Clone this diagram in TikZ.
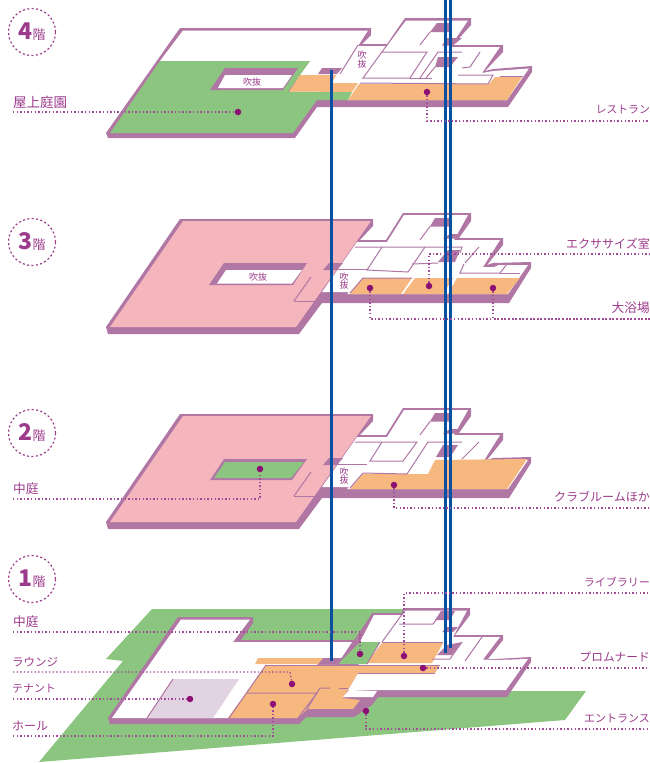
\documentclass[tikz,border=0pt]{standalone}
\usepackage{fontspec}
\setmainfont{Noto Sans CJK JP}
\usetikzlibrary{calc}
\definecolor{wall}{HTML}{B077A5}
\definecolor{lawn}{HTML}{8CC580}
\definecolor{tan}{HTML}{F6B87F}
\definecolor{rose}{HTML}{F5B5BD}
\definecolor{lilac}{HTML}{E2D3E2}
\definecolor{ink}{HTML}{9C3B8C}
\definecolor{spot}{HTML}{8B0F75}
\definecolor{shaft}{HTML}{0A50A0}
\definecolor{leadc}{HTML}{A04A98}
\tikzset{
 wallf/.style={fill=wall,draw=none},
 whitef/.style={fill=white,draw=none},
 lawnf/.style={fill=lawn,draw=none},
 tanf/.style={fill=tan,draw=none},
 rosef/.style={fill=rose,draw=none},
 lilacf/.style={fill=lilac,draw=none},
 thin line/.style={draw=wall,line width=1pt},
 shaftl/.style={draw=shaft,line width=3pt},
 lead/.style={draw=leadc,line width=1.3pt,dash pattern=on 1.4pt off 2.2pt},
 spotd/.style={circle,fill=spot,inner sep=0pt,minimum size=6.5pt},
 lab/.style={text=ink,font=\fontsize{12}{12}\selectfont,inner sep=0pt},
 labl/.style={lab,anchor=west},
 labr/.style={lab,anchor=east},
 fs/.style={font=\fontsize{#1}{#1}\selectfont},
 tiny/.style={text=ink,font=\fontsize{9}{9}\selectfont,inner sep=0pt},
 ring/.style={circle,draw=ink,line width=1.2pt,dash pattern=on 2pt off 2.4pt,minimum size=47pt,inner sep=0pt,text=ink},
}
\newcommand{\ringtext}[1]{{\fontsize{23}{23}\selectfont\bfseries #1}{\fontsize{13}{13}\selectfont 階}}
% parts shared by floors 2 and 3 (drawn at floor 3 position)
\newcommand{\midfloorback}{%
 \path[wallf] (180,219)--(373,219)--(373,226)--(360,240)--(386,240)--(403,213)--(471,213)--(471,221)--(459,238)--(503,238)--(503,245)--(487,265)--(493,263)--(531,262)--(531,268)--(509,303)--(322,303)--(299,334)--(108,334)--(106,327)--cycle;
 \path[whitef] (357,242)--(387,242)--(404,215)--(468,215)--(454,240)--(500,240)--(483,267)--(494,267)--(499,265)--(528,265)--(508,294)--(347,294)--(349,292)--(322,292)--cycle;
 \path[rosef] (183,221)--(371,221)--(296,327)--(110,327)--cycle;
 \path[wallf] (329,263)--(343,263)--(337,270)--(323,270)--cycle;
 \draw[thin line] (294,301)--(311,277);
 \draw[thin line] (294,301)--(317,301);
 \path[wallf] (435,218)--(450,218)--(450,226.5)--(430,226.5)--cycle;
 \path[wallf] (450,234)--(460,234)--(455,238.5)--(443,238.5)--cycle;
 \draw[thin line] (420,240)--(430,226.5);
 \draw[thin line] (335,269)--(367,269);
}
\begin{document}
\begin{tikzpicture}[x=1pt,y=-1pt]
\useasboundingbox (0,0) rectangle (650,763);
%% ---------- FLOOR 4
\path[wallf] (180,28)--(371,28)--(371,35)--(362,44)--(387,44)--(405,18)--(471,18)--(471,25)--(453,45)--(503,45)--(503,52)--(485,71)--(493,69)--(532,66)--(532,72)--(508,107)--(317,107)--(295,138)--(108,138)--(106,133)--cycle;
\path[whitef] (183,30.5)--(368,30.5)--(358,46)--(387,46)--(406,20.5)--(468,20.5)--(450,47)--(500,47)--(482,73)--(493,71)--(529,68.5)--(507,100)--(348,100)--(340,92)--(290,92)--(300,75)--(310,61)--(160,61)--cycle;
\path[lawnf] (160,61)--(310,61)--(288,91.5)--(352,92)--(348,100)--(317,100)--(293,133)--(110,133)--cycle;
\path[tanf] (300,75)--(336,75)--(332,83)--(358,83)--(352,92)--(289,91.5)--cycle;
\path[wallf] (322,68)--(342,68)--(337,74)--(318,74)--cycle;
\path[tanf] (359,84)--(489,84)--(495,77)--(522,77)--(507,100)--(348,100)--cycle;
\path[wallf] (225,68)--(298,68)--(283,90)--(210,90)--cycle;
\path[whitef] (225,75)--(292,75)--(283,88)--(218,88)--cycle;
\path[wallf] (437,23)--(449,23)--(449,32)--(430,32)--cycle;
\path[wallf] (447,38)--(462,38)--(453,45.5)--(442,45.5)--cycle;
\path[wallf] (438,57)--(458,57)--(450,67)--(435,67)--cycle;
\draw[thin line] (430,32)--(420,45);
\draw[thin line] (358,45)--(340,74);
\draw[thin line] (387,45)--(363,78)--(410,78)--(427,52)--(382,52);
\draw[thin line] (420,78)--(438,52)--(462,52);
\draw[thin line] (410,78)--(432,78);
\draw[thin line] (435,67)--(426,78);
\draw[thin line] (480,52)--(470,67)--(462,68);
\draw[thin line] (458,75)--(493,75)--(488,84)--(360,83);
\draw[thin line] (500,76)--(523,76);
\node[tiny] (f4a) at (252,82) {吹抜};
\node[tiny,align=center] (f4b) at (362,59.5) {吹\\[-0.5pt]抜};
%% ---------- FLOOR 3
\begin{scope}
\midfloorback
\path[wallf] (224,263)--(307,263)--(293,285)--(209,285)--cycle;
\path[whitef] (226,270)--(302,270)--(292,283.5)--(217,283.5)--cycle;
\path[tanf] (350,294)--(363,278)--(412,278)--(401,294)--cycle;
\path[tanf] (415,278)--(453,278)--(443,294)--(403,294)--cycle;
\path[tanf] (457,278)--(520,278)--(507,294)--(448,294)--cycle;
\draw[thin line] (350,293)--(363,278)--(412,278);
\draw[thin line] (355,247)--(462,247)--(460,253);
\draw[thin line] (382,247)--(367,270)--(408,272)--(425,247);
\draw[thin line] (412,264)--(438,263);
\path[wallf] (448,250)--(460,250)--(455,262)--(438,262)--cycle;
\draw[thin line] (479,247)--(465,263);
\draw[thin line] (464,264)--(460,273)--(500,273)--(507,264);
\draw[thin line] (500,273)--(520,273);
\node[tiny] (f3a) at (258,277) {吹抜};
\node[tiny,align=center] (f3b) at (344,281) {吹\\[-0.5pt]抜};
\end{scope}
%% ---------- FLOOR 2
\begin{scope}[shift={(0,195)}]
\midfloorback
\path[wallf] (224,264)--(307,264)--(292,285)--(210,285)--cycle;
\path[lawnf] (225,267)--(304,267)--(291,283)--(214,283)--cycle;
\path[tanf] (350,294)--(363,279)--(428,279)--(435,265)--(527,264)--(507,294)--cycle;
\draw[thin line] (350,293)--(363,278)--(407,279);
\draw[thin line] (355,247)--(417,247)--(403,266)--(370,266)--(382,247);
\draw[thin line] (407,279)--(428,247)--(462,247);
\path[wallf] (443,250)--(458,250)--(450,262)--(436,262)--cycle;
\draw[thin line] (479,247)--(462,264);
\node[tiny,align=center] (f2b) at (344,281) {吹\\[-0.5pt]抜};
\end{scope}
%% ---------- FLOOR 1
\path[lawnf] (152,609)--(403,609)--(400,640)--(470,691)--(586,691)--(565,720)--(39,762)--(123,661)--(106,659)--cycle;
\path[wallf] (178,617)--(253,617)--(253,623)--(241,640)--(356,640)--(372,613)--(402,613)--(403,608)--(470,608)--(470,615)--(455,635)--(503,635)--(503,640)--(488,659)--(495,659)--(531,657)--(531,662)--(507,697)--(378,697)--(372,705)--(354,717)--(306,717)--(299,724)--(110,724)--(108,718)--cycle;
\path[whitef] (181,619.5)--(250,619.5)--(233,642)--(352,642)--(338,664)--(318,664)--(229,718)--(112,718)--cycle;
\path[whitef] (374,615)--(403,615)--(405,610.5)--(467,610.5)--(453,637)--(500,637)--(483,659.5)--(495,660)--(528,659)--(506,690)--(348,690)--(358,673)--(360,642)--cycle;
\path[lawnf] (360,642)--(380,642)--(367,664)--(338,664)--cycle;
\path[wallf] (323,658)--(342,658)--(338,664)--(318,664)--cycle;
\path[tanf] (258,658)--(323,658)--(318,664)--(255,664)--cycle;
\path[tanf] (266,665)--(440,665)--(435,673)--(358,673)--(343,698)--(360,700)--(353,709)--(307,709)--(298,718)--(228,718)--cycle;
\path[tanf] (382,643)--(443,643)--(432,663)--(367,663)--cycle;
\path[lilacf] (173,679)--(239,679)--(213,718)--(147,718)--cycle;
\path[whitef] (349,690)--(377,691)--(373,697)--(343,697)--cycle;
\draw[thin line] (173,679)--(147,718);
\draw[thin line] (266,665)--(229,718);
\draw[thin line] (266,665)--(440,665);
\draw[thin line] (247,693)--(317,693)--(298,718);
\draw[thin line] (307,709)--(320,688)--(330,688);
\draw[thin line] (339,688)--(348,688);
\draw[thin line] (307,709)--(353,709);
\draw[thin line] (372,615)--(338,664);
\draw[thin line] (382,642)--(403,613);
\draw[thin line] (382,642)--(443,642);
\draw[thin line] (367,664)--(380,642);
\draw[thin line] (399,624)--(433,624)--(442,612);
\path[wallf] (441,611)--(455,611)--(450,620)--(435,620)--cycle;
\path[wallf] (447,627)--(458,627)--(453,632)--(442,632)--cycle;
\path[wallf] (447,645)--(462,642)--(452,655)--(437,655)--cycle;
\draw[thin line] (432,659)--(450,659)--(462,642);
\draw[thin line] (482,637)--(465,661);
\draw[thin line] (358,673)--(435,673);
%% ---------- shafts
\coordinate (sa) at (331,70); \coordinate (sb) at (331,661);
\coordinate (sc) at (445.6,0); \coordinate (sd) at (445.6,653);
\coordinate (se) at (450.6,0); \coordinate (sf) at (450.6,648);
\draw[shaftl] (sa)--(sb);
\draw[shaftl] (sc)--(sd);
\draw[shaftl] (se)--(sf);
%% ---------- floor marks
\node[ring] (r4) at (32,32) {\ringtext{4}};
\node[ring] (r3) at (32,242) {\ringtext{3}};
\node[ring] (r2) at (32,433) {\ringtext{2}};
\node[ring] (r1) at (32,579) {\ringtext{1}};
%% ---------- labels
\node[labl,fs=13.5] (t1) at (13,102) {屋上庭園};
\node[labr,fs=10.8] (t2) at (650,110) {レストラン};
\node[labr] (t3) at (650,244) {エクササイズ室};
\node[labr,fs=12.7] (t4) at (650,308) {大浴場};
\node[labl,fs=12.7] (t5) at (13,489) {中庭};
\node[labr] (t6) at (650,497) {クラブルームほか};
\node[labr,fs=11] (t7) at (650,582) {ライブラリー};
\node[labl,fs=12.7] (t8) at (13,622) {中庭};
\node[labl,fs=11.5] (t9) at (12,662) {ラウンジ};
\node[labr,fs=11.7] (t10) at (650,657) {プロムナード};
\node[labl,fs=10.9] (t11) at (12,689) {テナント};
\node[labr,fs=11] (t12) at (650,718) {エントランス};
\node[labl] (t13) at (12,726) {ホール};
%% ---------- dots and leaders
\node[spotd] (d1) at (238,112) {};
\node[spotd] (d2) at (427,92) {};
\node[spotd] (d3) at (429,286) {};
\node[spotd] (d4) at (370,288) {};
\node[spotd] (d5) at (493,288) {};
\node[spotd] (d6) at (260,469) {};
\node[spotd] (d7) at (394,485) {};
\node[spotd] (d8) at (404,656) {};
\node[spotd] (d9) at (360,654) {};
\node[spotd] (d10) at (292,684) {};
\node[spotd] (d11) at (190,699) {};
\node[spotd] (d12) at (273,704) {};
\node[spotd] (d13) at (423,668) {};
\node[spotd] (d14) at (366,711) {};
\coordinate (e1) at (13,112); \coordinate (e2) at (650,121); \coordinate (e3) at (650,254);
\coordinate (e4) at (650,319); \coordinate (e5) at (13,499); \coordinate (e6) at (650,508);
\coordinate (e7) at (650,593); \coordinate (e8) at (13,632); \coordinate (e9) at (13,672);
\coordinate (e10) at (650,668); \coordinate (e11) at (13,699); \coordinate (e12) at (650,729);
\coordinate (e13) at (13,736); \coordinate (k9) at (290,672);
\draw[lead] (e1)--(d1);
\draw[lead] (d2)|-(e2);
\draw[lead] (d3)|-(e3);
\draw[lead] (d4)|-(e4);
\draw[lead] (d5)|-(e4);
\draw[lead] (e5)-|(d6);
\draw[lead] (d7)|-(e6);
\draw[lead] (d8)|-(e7);
\draw[lead] (e8)-|(d9);
\draw[lead] (e9)--(k9)--(d10);
\draw[lead] (e11)--(d11);
\draw[lead] (e13)-|(d12);
\draw[lead] (d13)--(e10);
\draw[lead] (d14)|-(e12);
\end{tikzpicture}
\end{document}
